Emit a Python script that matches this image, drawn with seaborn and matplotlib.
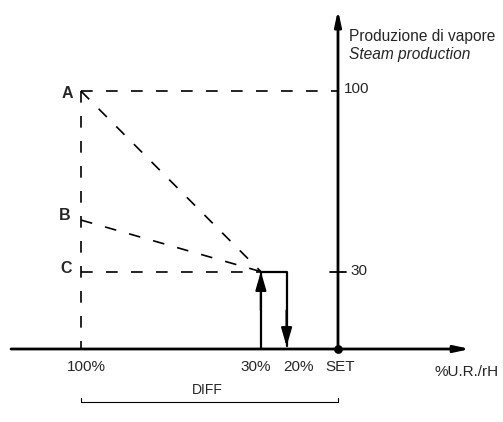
""" Diagramma produzione di vapore / steam production vs %U.R."""

import pandas as pd
import seaborn as sns
import matplotlib.pyplot as plt

# Dati

livelli = ["A", "B", "C"]
produzione = [100, 50, 30]          # produzione di vapore (%) nei punti A, B, C
x_max = 100                          # 100% del differenziale
x_on = 30                            # accensione
x_off = 20                           # spegnimento
x_set = 0                            # SET
tick_y = [100, 30]
tick_y_labels = ["100", "30"]
tick_x = [100, 30, 20, 0]
tick_x_labels = ["100%", "30%", "20%", "SET"]

# Segmenti tratteggiati

seg = []
for i, (lv, p) in enumerate(zip(livelli, produzione)):
    seg += [(lv, x_max, p), (lv, x_on, produzione[-1])]
seg += [("v", x_max, produzione[0]), ("v", x_max, 0)]
seg += [("h", x_max, produzione[0]), ("h", x_set, produzione[0])]
guide = pd.DataFrame(seg, columns=["seg", "x", "y"])

gradino = pd.DataFrame({"x": [x_on, x_on, x_off, x_off],
                        "y": [0, produzione[-1], produzione[-1], 1]})

sns.set_theme(style="white")
plt.rcParams["font.family"] = ["Liberation Sans", "DejaVu Sans"]

fig = plt.figure(figsize=(5.03, 4.22), dpi=100)
ax = fig.add_axes([0, 0, 1, 1])
ax.set_xlim(131.5, -64.2)
ax.set_ylim(-28.3, 135.3)
ax.axis("off")

sns.lineplot(data=guide, x="x", y="y", units="seg", estimator=None, sort=False,
             color="black", lw=1.2, ls=(0, (7, 8)), ax=ax)
sns.lineplot(data=gradino, x="x", y="y", estimator=None, sort=False,
             color="black", lw=1.6, ax=ax)

# Frecce del gradino
freccia = dict(arrowstyle="-|>,head_length=0.55,head_width=0.16", color="black",
               lw=1.6, shrinkA=0, shrinkB=0, mutation_scale=20)
ax.annotate("", xy=(x_on, produzione[-1]), xytext=(x_on, 15), arrowprops=freccia)
ax.annotate("", xy=(x_off, 1), xytext=(x_off, 15), arrowprops=freccia)

# Assi
asse = dict(arrowstyle="-|>,head_length=0.6,head_width=0.13", color="black",
            lw=2.0, shrinkA=0, shrinkB=0, mutation_scale=15)
ax.annotate("", xy=(-51.4, 0), xytext=(127.2, 0), arrowprops=asse)
ax.annotate("", xy=(x_set, 131.4), xytext=(x_set, 0), arrowprops=asse)
sns.scatterplot(x=[x_set], y=[0], s=40, color="black", edgecolor="black",
                linewidth=0, ax=ax, zorder=5)
ax.plot([3.1, -3.1], [produzione[-1]] * 2, color="black", lw=1.3)

# Testi
fs = 11
for lv, p, dx, dy in zip(livelli, produzione, [105.4, 106.2, 105.8], [-0.8, 1.9, 1.4]):
    ax.text(dx, p + dy, lv, fontsize=11.5, fontweight="bold", ha="center", va="center")
ax.text(-2.3, 100.8, tick_y_labels[0], fontsize=fs, ha="left", va="center")
ax.text(-4.7, 30.2, tick_y_labels[1], fontsize=fs, ha="left", va="center")
for x, lab, off in zip(tick_x, tick_x_labels, [-2.3, 1.9, -4.8, -0.8]):
    ax.text(x + off, -7.0, lab, fontsize=fs, ha="center", va="center")
ax.text(-50.2, -8.9, "%U.R./rH", fontsize=fs, ha="center", va="center")
ax.text(-4.3, 121.3, "Produzione di vapore", fontsize=11.2, ha="left", va="center")
ax.text(-4.3, 114.0, "Steam production", fontsize=11.2, style="italic", ha="left", va="center")

# DIFF
ax.plot([x_max, x_max, x_set, x_set], [-19, -20.5, -20.5, -19], color="black", lw=0.8)
ax.text(51, -15.9, "DIFF", fontsize=10, ha="center", va="center")

plt.savefig("out.png", dpi=100)
